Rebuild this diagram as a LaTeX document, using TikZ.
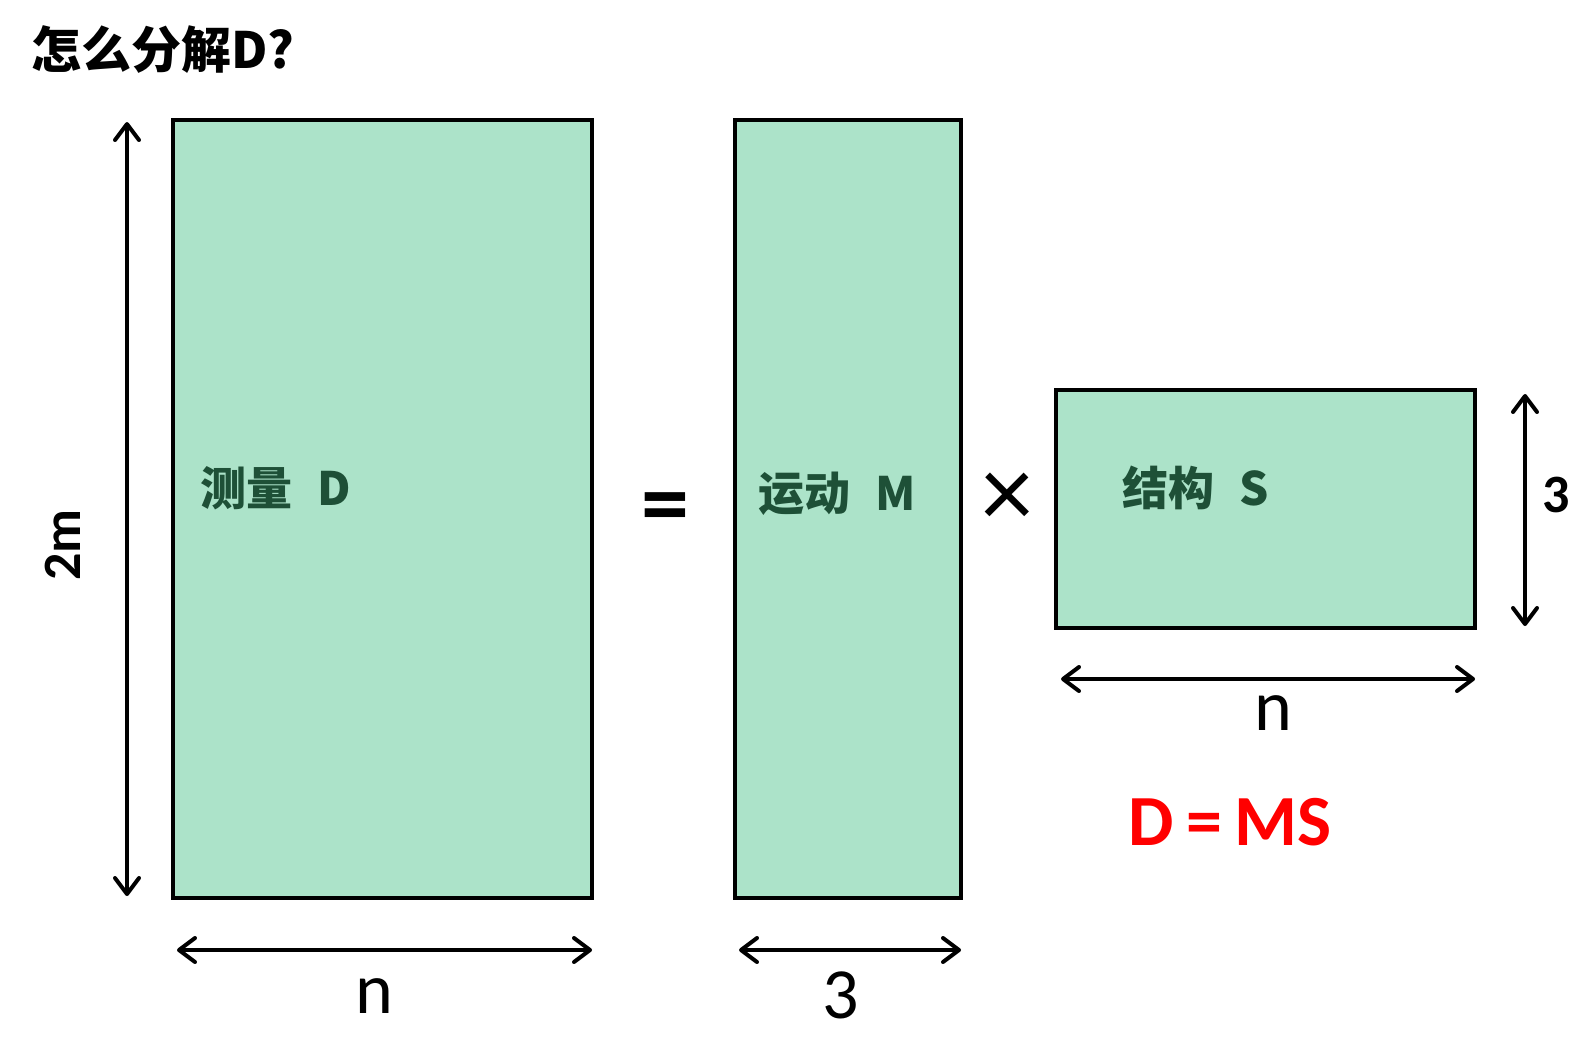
\documentclass[tikz,border=0pt]{standalone}
\usepackage{fontspec}
\setmainfont{Carlito}
\newfontfamily\cjk{Noto Sans CJK SC}
\usetikzlibrary{arrows.meta,positioning}
\definecolor{matfill}{RGB}{172,227,201}
\definecolor{mattext}{RGB}{30,80,55}
\definecolor{eqred}{RGB}{255,0,0}

\begin{document}
\begin{tikzpicture}[x=0.5pt,y=-0.5pt,
    mat/.style={draw,line width=2.3pt,fill=matfill,inner sep=0pt},
    dim/.style={line width=2pt,
      {Straight Barb[length=8pt,width=12pt,round]}-{Straight Barb[length=8pt,width=12pt,round]}},
    inlbl/.style={font=\cjk\bfseries\fontsize{23pt}{28pt}\selectfont,text=mattext,anchor=west,inner sep=0pt},
    sizelbl/.style={font=\fontsize{36pt}{40pt}\selectfont,inner sep=0pt},
    sidelbl/.style={font=\bfseries\fontsize{27pt}{30pt}\selectfont,inner sep=0pt},
    opsym/.style={font=\bfseries\fontsize{48pt}{50pt}\selectfont,inner sep=0pt}]
  \useasboundingbox (0,0) rectangle (1584,1050);

  % title
  \node[font=\cjk\bfseries\fontsize{25pt}{30pt}\selectfont,anchor=west,inner sep=0pt] (title) at (31,50) {怎么分解D?};

  % the three matrices
  \node[mat,minimum width=209.5pt,minimum height=389pt] (D) at (382.5,509) {};
  \node[mat,minimum width=113pt,minimum height=389pt] (M) at (848,509) {};
  \node[mat,minimum width=209.5pt,minimum height=119pt] (S) at (1265.5,509) {};

  \node[inlbl] (Dlbl) at (200,488) {测量\hspace{0.55em}D};
  \node[inlbl] (Mlbl) at (758,494) {运动\hspace{0.55em}M};
  \node[inlbl] (Slbl) at (1122,488) {结构\hspace{0.55em}S};

  \node[opsym] (eq) at (665,514) {=};
  \node[opsym,font=\fontsize{52pt}{52pt}\selectfont] (times) at (1007,500) {×};

  % sizes
  \coordinate (dTop) at (127,122);
  \coordinate (dBot) at (127,896);
  \draw[dim] (dTop) -- (dBot);
  \node[sidelbl,rotate=90] (twom) at (63,545) {2m};

  \coordinate (dnL) at (177,950);
  \coordinate (dnR) at (592,950);
  \draw[dim] (dnL) -- (dnR);
  \node[sizelbl] (dn) at (374,996) {n};

  \coordinate (m3L) at (739,950);
  \coordinate (m3R) at (961,950);
  \draw[dim] (m3L) -- (m3R);
  \node[sizelbl] (m3) at (841,995) {3};

  \coordinate (snL) at (1061,679);
  \coordinate (snR) at (1475,679);
  \draw[dim] (snL) -- (snR);
  \node[sizelbl] (sn) at (1273,713) {n};

  \coordinate (s3T) at (1525,394);
  \coordinate (s3B) at (1525,626);
  \draw[dim] (s3T) -- (s3B);
  \node[sidelbl] (s3) at (1556,495) {3};

  % result
  \node[font=\bfseries\fontsize{36pt}{40pt}\selectfont,text=eqred,inner sep=0pt] (result) at (1230,822) {D\,=\,MS};
\end{tikzpicture}
\end{document}
